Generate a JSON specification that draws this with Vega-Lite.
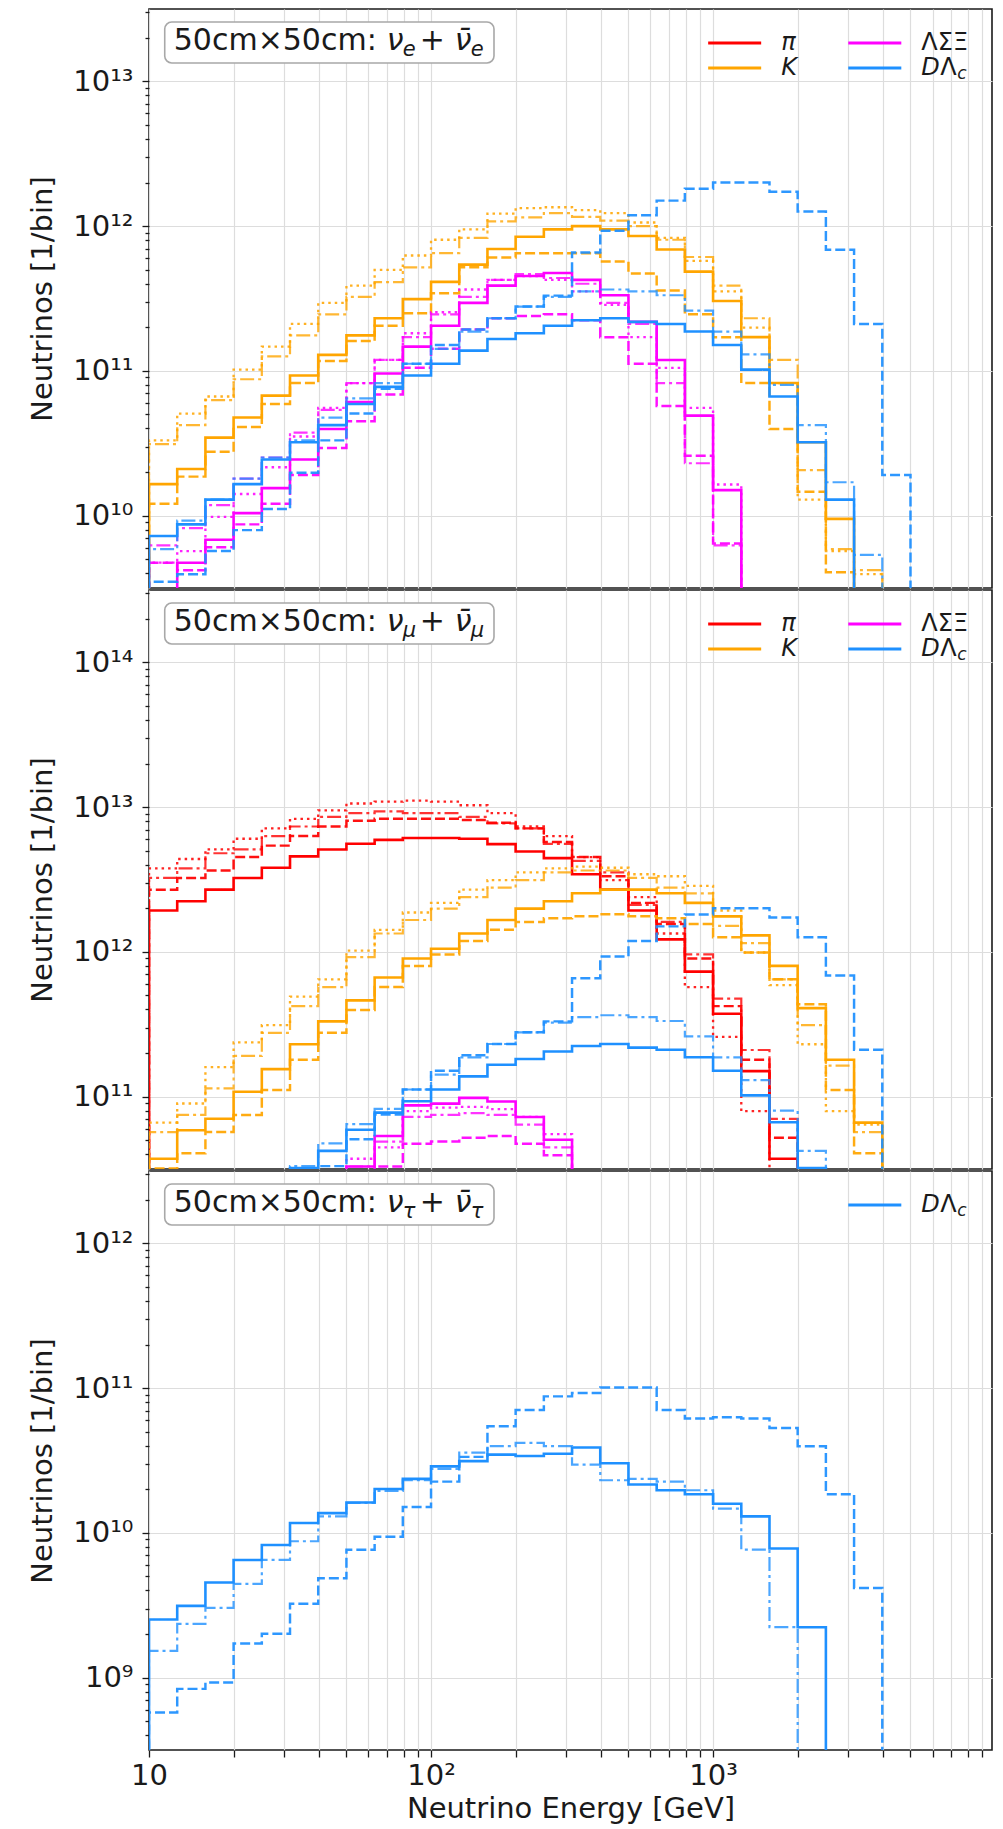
{
"$schema":"https://vega.github.io/schema/vega-lite/v6.json",
"background":"white",
"padding":{"left":28,"top":8,"right":5,"bottom":0},
"config":{
"font":"DejaVu Sans",
"view":{"stroke":"#1a1a1a","strokeWidth":1.6},
"axis":{"labelFont":"DejaVu Sans","labelFontSize":29,"labelColor":"#1a1a1a","titleFont":"DejaVu Sans","titleFontSize":29,"titleFontWeight":"normal","titleColor":"#1a1a1a","tickColor":"#1a1a1a","tickWidth":1.3,"gridColor":"#dddddd","gridWidth":1.2,"domain":false,"labelOverlap":false,"labelFlush":false,"labelBound":false},
"text":{"font":"DejaVu Sans","color":"#1a1a1a"}
},
"datasets":{
"p1":[
{"h":"K","s":"solid","E":10,"n":1},{"h":"K","s":"solid","E":10,"n":1.65e10},{"h":"K","s":"solid","E":12.59,"n":2.1e10},{"h":"K","s":"solid","E":15.85,"n":3.46e10},{"h":"K","s":"solid","E":19.95,"n":4.76e10},{"h":"K","s":"solid","E":25.12,"n":6.75e10},{"h":"K","s":"solid","E":31.62,"n":9.3e10},{"h":"K","s":"solid","E":39.81,"n":1.29e11},{"h":"K","s":"solid","E":50.12,"n":1.76e11},{"h":"K","s":"solid","E":63.1,"n":2.31e11},{"h":"K","s":"solid","E":79.43,"n":3.13e11},{"h":"K","s":"solid","E":100,"n":4.12e11},{"h":"K","s":"solid","E":125.9,"n":5.42e11},{"h":"K","s":"solid","E":158.5,"n":6.95e11},{"h":"K","s":"solid","E":199.5,"n":8.45e11},{"h":"K","s":"solid","E":251.2,"n":9.5e11},{"h":"K","s":"solid","E":316.2,"n":1e12},{"h":"K","s":"solid","E":398.1,"n":9.5e11},{"h":"K","s":"solid","E":501.2,"n":8.55e11},{"h":"K","s":"solid","E":631,"n":6.9e11},{"h":"K","s":"solid","E":794.3,"n":4.85e11},{"h":"K","s":"solid","E":1000,"n":3.04e11},{"h":"K","s":"solid","E":1259,"n":1.71e11},{"h":"K","s":"solid","E":1585,"n":8.24e10},{"h":"K","s":"solid","E":1995,"n":3.21e10},{"h":"K","s":"solid","E":2512,"n":9.5e9},{"h":"K","s":"solid","E":3162,"n":1},
{"h":"K","s":"dot","E":10,"n":1},{"h":"K","s":"dot","E":10,"n":3.31e10},{"h":"K","s":"dot","E":12.59,"n":5.07e10},{"h":"K","s":"dot","E":15.85,"n":6.65e10},{"h":"K","s":"dot","E":19.95,"n":1.02e11},{"h":"K","s":"dot","E":25.12,"n":1.47e11},{"h":"K","s":"dot","E":31.62,"n":2.11e11},{"h":"K","s":"dot","E":39.81,"n":2.95e11},{"h":"K","s":"dot","E":50.12,"n":3.88e11},{"h":"K","s":"dot","E":63.1,"n":4.98e11},{"h":"K","s":"dot","E":79.43,"n":6.27e11},{"h":"K","s":"dot","E":100,"n":8.05e11},{"h":"K","s":"dot","E":125.9,"n":9.5e11},{"h":"K","s":"dot","E":158.5,"n":1.22e12},{"h":"K","s":"dot","E":199.5,"n":1.33e12},{"h":"K","s":"dot","E":251.2,"n":1.35e12},{"h":"K","s":"dot","E":316.2,"n":1.29e12},{"h":"K","s":"dot","E":398.1,"n":1.23e12},{"h":"K","s":"dot","E":501.2,"n":1.06e12},{"h":"K","s":"dot","E":631,"n":8.3e11},{"h":"K","s":"dot","E":794.3,"n":5.75e11},{"h":"K","s":"dot","E":1000,"n":3.54e11},{"h":"K","s":"dot","E":1259,"n":1.99e11},{"h":"K","s":"dot","E":1585,"n":8.24e10},{"h":"K","s":"dot","E":1995,"n":1.29e10},{"h":"K","s":"dot","E":2512,"n":5.7e9},{"h":"K","s":"dot","E":3162,"n":3.94e9},{"h":"K","s":"dot","E":3981,"n":1},
{"h":"K","s":"dashdot","E":10,"n":1},{"h":"K","s":"dashdot","E":10,"n":3.12e10},{"h":"K","s":"dashdot","E":12.59,"n":4.22e10},{"h":"K","s":"dashdot","E":15.85,"n":6.27e10},{"h":"K","s":"dashdot","E":19.95,"n":8.75e10},{"h":"K","s":"dashdot","E":25.12,"n":1.26e11},{"h":"K","s":"dashdot","E":31.62,"n":1.76e11},{"h":"K","s":"dashdot","E":39.81,"n":2.46e11},{"h":"K","s":"dashdot","E":50.12,"n":3.24e11},{"h":"K","s":"dashdot","E":63.1,"n":4.1e11},{"h":"K","s":"dashdot","E":79.43,"n":5.19e11},{"h":"K","s":"dashdot","E":100,"n":6.5e11},{"h":"K","s":"dashdot","E":125.9,"n":8.3e11},{"h":"K","s":"dashdot","E":158.5,"n":1.08e12},{"h":"K","s":"dashdot","E":199.5,"n":1.15e12},{"h":"K","s":"dashdot","E":251.2,"n":1.23e12},{"h":"K","s":"dashdot","E":316.2,"n":1.16e12},{"h":"K","s":"dashdot","E":398.1,"n":1.09e12},{"h":"K","s":"dashdot","E":501.2,"n":1e12},{"h":"K","s":"dashdot","E":631,"n":8.05e11},{"h":"K","s":"dashdot","E":794.3,"n":6.12e11},{"h":"K","s":"dashdot","E":1000,"n":3.88e11},{"h":"K","s":"dashdot","E":1259,"n":2.31e11},{"h":"K","s":"dashdot","E":1585,"n":1.19e11},{"h":"K","s":"dashdot","E":1995,"n":2.06e10},{"h":"K","s":"dashdot","E":2512,"n":5.86e9},{"h":"K","s":"dashdot","E":3162,"n":4.2e9},{"h":"K","s":"dashdot","E":3981,"n":1},
{"h":"K","s":"dash","E":10,"n":1},{"h":"K","s":"dash","E":10,"n":1.21e10},{"h":"K","s":"dash","E":12.59,"n":1.86e10},{"h":"K","s":"dash","E":15.85,"n":2.76e10},{"h":"K","s":"dash","E":19.95,"n":4.09e10},{"h":"K","s":"dash","E":25.12,"n":5.9e10},{"h":"K","s":"dash","E":31.62,"n":8.24e10},{"h":"K","s":"dash","E":39.81,"n":1.17e11},{"h":"K","s":"dash","E":50.12,"n":1.61e11},{"h":"K","s":"dash","E":63.1,"n":2.05e11},{"h":"K","s":"dash","E":79.43,"n":2.5e11},{"h":"K","s":"dash","E":100,"n":3.44e11},{"h":"K","s":"dash","E":125.9,"n":5.19e11},{"h":"K","s":"dash","E":158.5,"n":6.08e11},{"h":"K","s":"dash","E":199.5,"n":6.5e11},{"h":"K","s":"dash","E":251.2,"n":6.5e11},{"h":"K","s":"dash","E":316.2,"n":6.5e11},{"h":"K","s":"dash","E":398.1,"n":5.69e11},{"h":"K","s":"dash","E":501.2,"n":4.71e11},{"h":"K","s":"dash","E":631,"n":3.59e11},{"h":"K","s":"dash","E":794.3,"n":2.46e11},{"h":"K","s":"dash","E":1000,"n":1.71e11},{"h":"K","s":"dash","E":1259,"n":8.24e10},{"h":"K","s":"dash","E":1585,"n":3.97e10},{"h":"K","s":"dash","E":1995,"n":1.46e10},{"h":"K","s":"dash","E":2512,"n":4.06e9},{"h":"K","s":"dash","E":3162,"n":1},
{"h":"ΛΣΞ","s":"solid","E":10,"n":1},{"h":"ΛΣΞ","s":"solid","E":10,"n":2.74e9},{"h":"ΛΣΞ","s":"solid","E":12.59,"n":4.73e9},{"h":"ΛΣΞ","s":"solid","E":15.85,"n":6.82e9},{"h":"ΛΣΞ","s":"solid","E":19.95,"n":1.04e10},{"h":"ΛΣΞ","s":"solid","E":25.12,"n":1.55e10},{"h":"ΛΣΞ","s":"solid","E":31.62,"n":2.44e10},{"h":"ΛΣΞ","s":"solid","E":39.81,"n":3.97e10},{"h":"ΛΣΞ","s":"solid","E":50.12,"n":6.08e10},{"h":"ΛΣΞ","s":"solid","E":63.1,"n":9.6e10},{"h":"ΛΣΞ","s":"solid","E":79.43,"n":1.47e11},{"h":"ΛΣΞ","s":"solid","E":100,"n":2.05e11},{"h":"ΛΣΞ","s":"solid","E":125.9,"n":2.95e11},{"h":"ΛΣΞ","s":"solid","E":158.5,"n":3.88e11},{"h":"ΛΣΞ","s":"solid","E":199.5,"n":4.52e11},{"h":"ΛΣΞ","s":"solid","E":251.2,"n":4.74e11},{"h":"ΛΣΞ","s":"solid","E":316.2,"n":4.25e11},{"h":"ΛΣΞ","s":"solid","E":398.1,"n":3.33e11},{"h":"ΛΣΞ","s":"solid","E":501.2,"n":2.18e11},{"h":"ΛΣΞ","s":"solid","E":631,"n":1.19e11},{"h":"ΛΣΞ","s":"solid","E":794.3,"n":4.91e10},{"h":"ΛΣΞ","s":"solid","E":1000,"n":1.5e10},{"h":"ΛΣΞ","s":"solid","E":1259,"n":1},
{"h":"ΛΣΞ","s":"dot","E":10,"n":1},{"h":"ΛΣΞ","s":"dot","E":10,"n":4.73e9},{"h":"ΛΣΞ","s":"dot","E":12.59,"n":5.69e9},{"h":"ΛΣΞ","s":"dot","E":15.85,"n":9.8e9},{"h":"ΛΣΞ","s":"dot","E":19.95,"n":1.41e10},{"h":"ΛΣΞ","s":"dot","E":25.12,"n":2.16e10},{"h":"ΛΣΞ","s":"dot","E":31.62,"n":3.52e10},{"h":"ΛΣΞ","s":"dot","E":39.81,"n":5.55e10},{"h":"ΛΣΞ","s":"dot","E":50.12,"n":8.24e10},{"h":"ΛΣΞ","s":"dot","E":63.1,"n":1.19e11},{"h":"ΛΣΞ","s":"dot","E":79.43,"n":1.82e11},{"h":"ΛΣΞ","s":"dot","E":100,"n":2.54e11},{"h":"ΛΣΞ","s":"dot","E":125.9,"n":3.65e11},{"h":"ΛΣΞ","s":"dot","E":158.5,"n":4.25e11},{"h":"ΛΣΞ","s":"dot","E":199.5,"n":4.52e11},{"h":"ΛΣΞ","s":"dot","E":251.2,"n":4.25e11},{"h":"ΛΣΞ","s":"dot","E":316.2,"n":3.54e11},{"h":"ΛΣΞ","s":"dot","E":398.1,"n":2.86e11},{"h":"ΛΣΞ","s":"dot","E":501.2,"n":1.71e11},{"h":"ΛΣΞ","s":"dot","E":631,"n":1.05e11},{"h":"ΛΣΞ","s":"dot","E":794.3,"n":5.55e10},{"h":"ΛΣΞ","s":"dot","E":1000,"n":1.64e10},{"h":"ΛΣΞ","s":"dot","E":1259,"n":1},
{"h":"ΛΣΞ","s":"dashdot","E":10,"n":1},{"h":"ΛΣΞ","s":"dashdot","E":10,"n":6.22e9},{"h":"ΛΣΞ","s":"dashdot","E":12.59,"n":8.2e9},{"h":"ΛΣΞ","s":"dashdot","E":15.85,"n":1.18e10},{"h":"ΛΣΞ","s":"dashdot","E":19.95,"n":1.8e10},{"h":"ΛΣΞ","s":"dashdot","E":25.12,"n":2.52e10},{"h":"ΛΣΞ","s":"dashdot","E":31.62,"n":3.74e10},{"h":"ΛΣΞ","s":"dashdot","E":39.81,"n":5.38e10},{"h":"ΛΣΞ","s":"dashdot","E":50.12,"n":8.24e10},{"h":"ΛΣΞ","s":"dashdot","E":63.1,"n":1.19e11},{"h":"ΛΣΞ","s":"dashdot","E":79.43,"n":1.71e11},{"h":"ΛΣΞ","s":"dashdot","E":100,"n":2.46e11},{"h":"ΛΣΞ","s":"dashdot","E":125.9,"n":3.24e11},{"h":"ΛΣΞ","s":"dashdot","E":158.5,"n":4.25e11},{"h":"ΛΣΞ","s":"dashdot","E":199.5,"n":4.66e11},{"h":"ΛΣΞ","s":"dashdot","E":251.2,"n":4.38e11},{"h":"ΛΣΞ","s":"dashdot","E":316.2,"n":4e11},{"h":"ΛΣΞ","s":"dashdot","E":398.1,"n":2.95e11},{"h":"ΛΣΞ","s":"dashdot","E":501.2,"n":2.11e11},{"h":"ΛΣΞ","s":"dashdot","E":631,"n":8.24e10},{"h":"ΛΣΞ","s":"dashdot","E":794.3,"n":2.3e10},{"h":"ΛΣΞ","s":"dashdot","E":1000,"n":6.22e9},{"h":"ΛΣΞ","s":"dashdot","E":1259,"n":1},
{"h":"ΛΣΞ","s":"dash","E":10,"n":1},{"h":"ΛΣΞ","s":"dash","E":10,"n":4.73e9},{"h":"ΛΣΞ","s":"dash","E":12.59,"n":4.2e9},{"h":"ΛΣΞ","s":"dash","E":15.85,"n":6.04e9},{"h":"ΛΣΞ","s":"dash","E":19.95,"n":8.7e9},{"h":"ΛΣΞ","s":"dash","E":25.12,"n":1.21e10},{"h":"ΛΣΞ","s":"dash","E":31.62,"n":1.91e10},{"h":"ΛΣΞ","s":"dash","E":39.81,"n":2.93e10},{"h":"ΛΣΞ","s":"dash","E":50.12,"n":4.49e10},{"h":"ΛΣΞ","s":"dash","E":63.1,"n":6.87e10},{"h":"ΛΣΞ","s":"dash","E":79.43,"n":1.05e11},{"h":"ΛΣΞ","s":"dash","E":100,"n":1.42e11},{"h":"ΛΣΞ","s":"dash","E":125.9,"n":1.93e11},{"h":"ΛΣΞ","s":"dash","E":158.5,"n":2.31e11},{"h":"ΛΣΞ","s":"dash","E":199.5,"n":2.39e11},{"h":"ΛΣΞ","s":"dash","E":251.2,"n":2.46e11},{"h":"ΛΣΞ","s":"dash","E":316.2,"n":2.24e11},{"h":"ΛΣΞ","s":"dash","E":398.1,"n":1.71e11},{"h":"ΛΣΞ","s":"dash","E":501.2,"n":1.12e11},{"h":"ΛΣΞ","s":"dash","E":631,"n":5.71e10},{"h":"ΛΣΞ","s":"dash","E":794.3,"n":2.59e10},{"h":"ΛΣΞ","s":"dash","E":1000,"n":6.41e9},{"h":"ΛΣΞ","s":"dash","E":1259,"n":1}
],
"d12":[
{"h":"DΛc","s":"solid","E":10,"n":1},{"h":"DΛc","s":"solid","E":10,"n":7.24e9},{"h":"DΛc","s":"solid","E":12.59,"n":8.7e9},{"h":"DΛc","s":"solid","E":15.85,"n":1.29e10},{"h":"DΛc","s":"solid","E":19.95,"n":1.65e10},{"h":"DΛc","s":"solid","E":25.12,"n":2.44e10},{"h":"DΛc","s":"solid","E":31.62,"n":3.21e10},{"h":"DΛc","s":"solid","E":39.81,"n":4.22e10},{"h":"DΛc","s":"solid","E":50.12,"n":5.9e10},{"h":"DΛc","s":"solid","E":63.1,"n":7.75e10},{"h":"DΛc","s":"solid","E":79.43,"n":9.3e10},{"h":"DΛc","s":"solid","E":100,"n":1.12e11},{"h":"DΛc","s":"solid","E":125.9,"n":1.38e11},{"h":"DΛc","s":"solid","E":158.5,"n":1.66e11},{"h":"DΛc","s":"solid","E":199.5,"n":1.82e11},{"h":"DΛc","s":"solid","E":251.2,"n":2.05e11},{"h":"DΛc","s":"solid","E":316.2,"n":2.24e11},{"h":"DΛc","s":"solid","E":398.1,"n":2.31e11},{"h":"DΛc","s":"solid","E":501.2,"n":2.18e11},{"h":"DΛc","s":"solid","E":631,"n":2.11e11},{"h":"DΛc","s":"solid","E":794.3,"n":1.87e11},{"h":"DΛc","s":"solid","E":1000,"n":1.51e11},{"h":"DΛc","s":"solid","E":1259,"n":1.02e11},{"h":"DΛc","s":"solid","E":1585,"n":6.65e10},{"h":"DΛc","s":"solid","E":1995,"n":3.21e10},{"h":"DΛc","s":"solid","E":2512,"n":1.29e10},{"h":"DΛc","s":"solid","E":3162,"n":1},
{"h":"DΛc","s":"dashdot","E":10,"n":1},{"h":"DΛc","s":"dashdot","E":10,"n":5.86e9},{"h":"DΛc","s":"dashdot","E":12.59,"n":9.25e9},{"h":"DΛc","s":"dashdot","E":15.85,"n":1.29e10},{"h":"DΛc","s":"dashdot","E":19.95,"n":1.8e10},{"h":"DΛc","s":"dashdot","E":25.12,"n":2.52e10},{"h":"DΛc","s":"dashdot","E":31.62,"n":3.31e10},{"h":"DΛc","s":"dashdot","E":39.81,"n":4.76e10},{"h":"DΛc","s":"dashdot","E":50.12,"n":6.46e10},{"h":"DΛc","s":"dashdot","E":63.1,"n":8.24e10},{"h":"DΛc","s":"dashdot","E":79.43,"n":1.12e11},{"h":"DΛc","s":"dashdot","E":100,"n":1.42e11},{"h":"DΛc","s":"dashdot","E":125.9,"n":1.87e11},{"h":"DΛc","s":"dashdot","E":158.5,"n":2.31e11},{"h":"DΛc","s":"dashdot","E":199.5,"n":2.78e11},{"h":"DΛc","s":"dashdot","E":251.2,"n":3.24e11},{"h":"DΛc","s":"dashdot","E":316.2,"n":3.54e11},{"h":"DΛc","s":"dashdot","E":398.1,"n":3.65e11},{"h":"DΛc","s":"dashdot","E":501.2,"n":3.54e11},{"h":"DΛc","s":"dashdot","E":631,"n":3.33e11},{"h":"DΛc","s":"dashdot","E":794.3,"n":2.61e11},{"h":"DΛc","s":"dashdot","E":1000,"n":1.87e11},{"h":"DΛc","s":"dashdot","E":1259,"n":1.3e11},{"h":"DΛc","s":"dashdot","E":1585,"n":8e10},{"h":"DΛc","s":"dashdot","E":1995,"n":4.22e10},{"h":"DΛc","s":"dashdot","E":2512,"n":1.7e10},{"h":"DΛc","s":"dashdot","E":3162,"n":5.35e9},{"h":"DΛc","s":"dashdot","E":3981,"n":1},
{"h":"DΛc","s":"dash","E":10,"n":1},{"h":"DΛc","s":"dash","E":10,"n":3.49e9},{"h":"DΛc","s":"dash","E":12.59,"n":3.94e9},{"h":"DΛc","s":"dash","E":15.85,"n":5.69e9},{"h":"DΛc","s":"dash","E":19.95,"n":7.94e9},{"h":"DΛc","s":"dash","E":25.12,"n":1.11e10},{"h":"DΛc","s":"dash","E":31.62,"n":1.98e10},{"h":"DΛc","s":"dash","E":39.81,"n":3.31e10},{"h":"DΛc","s":"dash","E":50.12,"n":5.07e10},{"h":"DΛc","s":"dash","E":63.1,"n":7.52e10},{"h":"DΛc","s":"dash","E":79.43,"n":1.12e11},{"h":"DΛc","s":"dash","E":100,"n":1.51e11},{"h":"DΛc","s":"dash","E":125.9,"n":1.93e11},{"h":"DΛc","s":"dash","E":158.5,"n":2.31e11},{"h":"DΛc","s":"dash","E":199.5,"n":2.78e11},{"h":"DΛc","s":"dash","E":251.2,"n":3.31e11},{"h":"DΛc","s":"dash","E":316.2,"n":6.58e11},{"h":"DΛc","s":"dash","E":398.1,"n":9.3e11},{"h":"DΛc","s":"dash","E":501.2,"n":1.19e12},{"h":"DΛc","s":"dash","E":631,"n":1.5e12},{"h":"DΛc","s":"dash","E":794.3,"n":1.81e12},{"h":"DΛc","s":"dash","E":1000,"n":2e12},{"h":"DΛc","s":"dash","E":1259,"n":2e12},{"h":"DΛc","s":"dash","E":1585,"n":1.73e12},{"h":"DΛc","s":"dash","E":1995,"n":1.26e12},{"h":"DΛc","s":"dash","E":2512,"n":6.87e11},{"h":"DΛc","s":"dash","E":3162,"n":2.11e11},{"h":"DΛc","s":"dash","E":3981,"n":1.91e10},{"h":"DΛc","s":"dash","E":5012,"n":1}
],
"p2":[
{"h":"π","s":"solid","E":10,"n":1},{"h":"π","s":"solid","E":10,"n":1.93e12},{"h":"π","s":"solid","E":12.59,"n":2.24e12},{"h":"π","s":"solid","E":15.85,"n":2.69e12},{"h":"π","s":"solid","E":19.95,"n":3.24e12},{"h":"π","s":"solid","E":25.12,"n":3.81e12},{"h":"π","s":"solid","E":31.62,"n":4.57e12},{"h":"π","s":"solid","E":39.81,"n":5.1e12},{"h":"π","s":"solid","E":50.12,"n":5.58e12},{"h":"π","s":"solid","E":63.1,"n":5.94e12},{"h":"π","s":"solid","E":79.43,"n":6.12e12},{"h":"π","s":"solid","E":100,"n":6.12e12},{"h":"π","s":"solid","E":125.9,"n":6.05e12},{"h":"π","s":"solid","E":158.5,"n":5.55e12},{"h":"π","s":"solid","E":199.5,"n":4.94e12},{"h":"π","s":"solid","E":251.2,"n":4.44e12},{"h":"π","s":"solid","E":316.2,"n":3.44e12},{"h":"π","s":"solid","E":398.1,"n":2.69e12},{"h":"π","s":"solid","E":501.2,"n":1.93e12},{"h":"π","s":"solid","E":631,"n":1.22e12},{"h":"π","s":"solid","E":794.3,"n":7.3e11},{"h":"π","s":"solid","E":1000,"n":3.74e11},{"h":"π","s":"solid","E":1259,"n":1.5e11},{"h":"π","s":"solid","E":1585,"n":3.72e10},{"h":"π","s":"solid","E":1995,"n":1},
{"h":"π","s":"dash","E":10,"n":1},{"h":"π","s":"dash","E":10,"n":2.69e12},{"h":"π","s":"dash","E":12.59,"n":3.24e12},{"h":"π","s":"dash","E":15.85,"n":3.65e12},{"h":"π","s":"dash","E":19.95,"n":4.52e12},{"h":"π","s":"dash","E":25.12,"n":5.42e12},{"h":"π","s":"dash","E":31.62,"n":6.31e12},{"h":"π","s":"dash","E":39.81,"n":7.35e12},{"h":"π","s":"dash","E":50.12,"n":8.05e12},{"h":"π","s":"dash","E":63.1,"n":8.3e12},{"h":"π","s":"dash","E":79.43,"n":8.3e12},{"h":"π","s":"dash","E":100,"n":8.3e12},{"h":"π","s":"dash","E":125.9,"n":8.15e12},{"h":"π","s":"dash","E":158.5,"n":7.8e12},{"h":"π","s":"dash","E":199.5,"n":7.13e12},{"h":"π","s":"dash","E":251.2,"n":5.75e12},{"h":"π","s":"dash","E":316.2,"n":4.52e12},{"h":"π","s":"dash","E":398.1,"n":3.33e12},{"h":"π","s":"dash","E":501.2,"n":2.18e12},{"h":"π","s":"dash","E":631,"n":1.56e12},{"h":"π","s":"dash","E":794.3,"n":9e11},{"h":"π","s":"dash","E":1000,"n":4.22e11},{"h":"π","s":"dash","E":1259,"n":1.8e11},{"h":"π","s":"dash","E":1585,"n":5.19e10},{"h":"π","s":"dash","E":1995,"n":1},
{"h":"π","s":"dashdot","E":10,"n":1},{"h":"π","s":"dashdot","E":10,"n":3.24e12},{"h":"π","s":"dashdot","E":12.59,"n":3.77e12},{"h":"π","s":"dashdot","E":15.85,"n":4.8e12},{"h":"π","s":"dashdot","E":19.95,"n":5.1e12},{"h":"π","s":"dashdot","E":25.12,"n":6.31e12},{"h":"π","s":"dashdot","E":31.62,"n":7.35e12},{"h":"π","s":"dashdot","E":39.81,"n":8.55e12},{"h":"π","s":"dashdot","E":50.12,"n":9.08e12},{"h":"π","s":"dashdot","E":63.1,"n":9.36e12},{"h":"π","s":"dashdot","E":79.43,"n":9.08e12},{"h":"π","s":"dashdot","E":100,"n":9.08e12},{"h":"π","s":"dashdot","E":125.9,"n":8.55e12},{"h":"π","s":"dashdot","E":158.5,"n":7.72e12},{"h":"π","s":"dashdot","E":199.5,"n":7.13e12},{"h":"π","s":"dashdot","E":251.2,"n":5.58e12},{"h":"π","s":"dashdot","E":316.2,"n":4.25e12},{"h":"π","s":"dashdot","E":398.1,"n":3.54e12},{"h":"π","s":"dashdot","E":501.2,"n":2.11e12},{"h":"π","s":"dashdot","E":631,"n":1.61e12},{"h":"π","s":"dashdot","E":794.3,"n":9.6e11},{"h":"π","s":"dashdot","E":1000,"n":4.76e11},{"h":"π","s":"dashdot","E":1259,"n":2.1e11},{"h":"π","s":"dashdot","E":1585,"n":7.03e10},{"h":"π","s":"dashdot","E":1995,"n":1},
{"h":"π","s":"dot","E":10,"n":1},{"h":"π","s":"dot","E":10,"n":3.77e12},{"h":"π","s":"dot","E":12.59,"n":4.38e12},{"h":"π","s":"dot","E":15.85,"n":5.1e12},{"h":"π","s":"dot","E":19.95,"n":6.05e12},{"h":"π","s":"dot","E":25.12,"n":7.13e12},{"h":"π","s":"dot","E":31.62,"n":8.3e12},{"h":"π","s":"dot","E":39.81,"n":9.5e12},{"h":"π","s":"dot","E":50.12,"n":1.06e13},{"h":"π","s":"dot","E":63.1,"n":1.09e13},{"h":"π","s":"dot","E":79.43,"n":1.11e13},{"h":"π","s":"dot","E":100,"n":1.09e13},{"h":"π","s":"dot","E":125.9,"n":1.03e13},{"h":"π","s":"dot","E":158.5,"n":9.08e12},{"h":"π","s":"dot","E":199.5,"n":7.35e12},{"h":"π","s":"dot","E":251.2,"n":6.31e12},{"h":"π","s":"dot","E":316.2,"n":4.52e12},{"h":"π","s":"dot","E":398.1,"n":3.13e12},{"h":"π","s":"dot","E":501.2,"n":2.39e12},{"h":"π","s":"dot","E":631,"n":1.34e12},{"h":"π","s":"dot","E":794.3,"n":5.71e11},{"h":"π","s":"dot","E":1000,"n":2.59e11},{"h":"π","s":"dot","E":1259,"n":7.94e10},{"h":"π","s":"dot","E":1585,"n":3.1e10},{"h":"π","s":"dot","E":1995,"n":1},
{"h":"K","s":"solid","E":10,"n":1},{"h":"K","s":"solid","E":10,"n":3.72e10},{"h":"K","s":"solid","E":12.59,"n":5.86e10},{"h":"K","s":"solid","E":15.85,"n":7.03e10},{"h":"K","s":"solid","E":19.95,"n":1.08e11},{"h":"K","s":"solid","E":25.12,"n":1.55e11},{"h":"K","s":"solid","E":31.62,"n":2.3e11},{"h":"K","s":"solid","E":39.81,"n":3.31e11},{"h":"K","s":"solid","E":50.12,"n":4.62e11},{"h":"K","s":"solid","E":63.1,"n":6.65e11},{"h":"K","s":"solid","E":79.43,"n":9e11},{"h":"K","s":"solid","E":100,"n":1.05e12},{"h":"K","s":"solid","E":125.9,"n":1.34e12},{"h":"K","s":"solid","E":158.5,"n":1.66e12},{"h":"K","s":"solid","E":199.5,"n":1.99e12},{"h":"K","s":"solid","E":251.2,"n":2.24e12},{"h":"K","s":"solid","E":316.2,"n":2.54e12},{"h":"K","s":"solid","E":398.1,"n":2.69e12},{"h":"K","s":"solid","E":501.2,"n":2.69e12},{"h":"K","s":"solid","E":631,"n":2.54e12},{"h":"K","s":"solid","E":794.3,"n":2.18e12},{"h":"K","s":"solid","E":1000,"n":1.76e12},{"h":"K","s":"solid","E":1259,"n":1.3e12},{"h":"K","s":"solid","E":1585,"n":8e11},{"h":"K","s":"solid","E":1995,"n":4.09e11},{"h":"K","s":"solid","E":2512,"n":1.8e11},{"h":"K","s":"solid","E":3162,"n":6.61e10},{"h":"K","s":"solid","E":3981,"n":1},
{"h":"K","s":"dash","E":10,"n":1},{"h":"K","s":"dash","E":10,"n":3.19e10},{"h":"K","s":"dash","E":12.59,"n":4.06e10},{"h":"K","s":"dash","E":15.85,"n":5.69e10},{"h":"K","s":"dash","E":19.95,"n":7.47e10},{"h":"K","s":"dash","E":25.12,"n":1.11e11},{"h":"K","s":"dash","E":31.62,"n":1.8e11},{"h":"K","s":"dash","E":39.81,"n":2.76e11},{"h":"K","s":"dash","E":50.12,"n":3.97e11},{"h":"K","s":"dash","E":63.1,"n":5.71e11},{"h":"K","s":"dash","E":79.43,"n":8e11},{"h":"K","s":"dash","E":100,"n":9.6e11},{"h":"K","s":"dash","E":125.9,"n":1.19e12},{"h":"K","s":"dash","E":158.5,"n":1.42e12},{"h":"K","s":"dash","E":199.5,"n":1.61e12},{"h":"K","s":"dash","E":251.2,"n":1.71e12},{"h":"K","s":"dash","E":316.2,"n":1.76e12},{"h":"K","s":"dash","E":398.1,"n":1.82e12},{"h":"K","s":"dash","E":501.2,"n":1.76e12},{"h":"K","s":"dash","E":631,"n":1.71e12},{"h":"K","s":"dash","E":794.3,"n":1.56e12},{"h":"K","s":"dash","E":1000,"n":1.26e12},{"h":"K","s":"dash","E":1259,"n":9.9e11},{"h":"K","s":"dash","E":1585,"n":6.46e11},{"h":"K","s":"dash","E":1995,"n":4.35e11},{"h":"K","s":"dash","E":2512,"n":1.11e11},{"h":"K","s":"dash","E":3162,"n":4.06e10},{"h":"K","s":"dash","E":3981,"n":1},
{"h":"K","s":"dot","E":10,"n":1},{"h":"K","s":"dot","E":10,"n":6.61e10},{"h":"K","s":"dot","E":12.59,"n":8.97e10},{"h":"K","s":"dot","E":15.85,"n":1.6e11},{"h":"K","s":"dot","E":19.95,"n":2.37e11},{"h":"K","s":"dot","E":25.12,"n":3.12e11},{"h":"K","s":"dot","E":31.62,"n":4.91e11},{"h":"K","s":"dot","E":39.81,"n":6.46e11},{"h":"K","s":"dot","E":50.12,"n":1.02e12},{"h":"K","s":"dot","E":63.1,"n":1.42e12},{"h":"K","s":"dot","E":79.43,"n":1.87e12},{"h":"K","s":"dot","E":100,"n":2.18e12},{"h":"K","s":"dot","E":125.9,"n":2.69e12},{"h":"K","s":"dot","E":158.5,"n":3.13e12},{"h":"K","s":"dot","E":199.5,"n":3.54e12},{"h":"K","s":"dot","E":251.2,"n":3.77e12},{"h":"K","s":"dot","E":316.2,"n":3.88e12},{"h":"K","s":"dot","E":398.1,"n":3.81e12},{"h":"K","s":"dot","E":501.2,"n":3.44e12},{"h":"K","s":"dot","E":631,"n":3.33e12},{"h":"K","s":"dot","E":794.3,"n":2.86e12},{"h":"K","s":"dot","E":1000,"n":1.93e12},{"h":"K","s":"dot","E":1259,"n":9.9e11},{"h":"K","s":"dot","E":1585,"n":5.9e11},{"h":"K","s":"dot","E":1995,"n":2.3e11},{"h":"K","s":"dot","E":2512,"n":7.94e10},{"h":"K","s":"dot","E":3162,"n":6.41e10},{"h":"K","s":"dot","E":3981,"n":1},
{"h":"K","s":"dashdot","E":10,"n":1},{"h":"K","s":"dashdot","E":10,"n":5.69e10},{"h":"K","s":"dashdot","E":12.59,"n":7.47e10},{"h":"K","s":"dashdot","E":15.85,"n":1.14e11},{"h":"K","s":"dashdot","E":19.95,"n":1.91e11},{"h":"K","s":"dashdot","E":25.12,"n":2.76e11},{"h":"K","s":"dashdot","E":31.62,"n":4.22e11},{"h":"K","s":"dashdot","E":39.81,"n":5.71e11},{"h":"K","s":"dashdot","E":50.12,"n":9.2e11},{"h":"K","s":"dashdot","E":63.1,"n":1.34e12},{"h":"K","s":"dashdot","E":79.43,"n":1.66e12},{"h":"K","s":"dashdot","E":100,"n":1.99e12},{"h":"K","s":"dashdot","E":125.9,"n":2.39e12},{"h":"K","s":"dashdot","E":158.5,"n":2.78e12},{"h":"K","s":"dashdot","E":199.5,"n":3.13e12},{"h":"K","s":"dashdot","E":251.2,"n":3.54e12},{"h":"K","s":"dashdot","E":316.2,"n":3.65e12},{"h":"K","s":"dashdot","E":398.1,"n":3.65e12},{"h":"K","s":"dashdot","E":501.2,"n":3.24e12},{"h":"K","s":"dashdot","E":631,"n":2.78e12},{"h":"K","s":"dashdot","E":794.3,"n":2.54e12},{"h":"K","s":"dashdot","E":1000,"n":1.51e12},{"h":"K","s":"dashdot","E":1259,"n":1.15e12},{"h":"K","s":"dashdot","E":1585,"n":6.46e11},{"h":"K","s":"dashdot","E":1995,"n":3.12e11},{"h":"K","s":"dashdot","E":2512,"n":1.64e11},{"h":"K","s":"dashdot","E":3162,"n":5.69e10},{"h":"K","s":"dashdot","E":3981,"n":1},
{"h":"ΛΣΞ","s":"solid","E":50.12,"n":1},{"h":"ΛΣΞ","s":"solid","E":50.12,"n":3.29e10},{"h":"ΛΣΞ","s":"solid","E":63.1,"n":5.35e10},{"h":"ΛΣΞ","s":"solid","E":79.43,"n":8.7e10},{"h":"ΛΣΞ","s":"solid","E":100,"n":8.95e10},{"h":"ΛΣΞ","s":"solid","E":125.9,"n":9.8e10},{"h":"ΛΣΞ","s":"solid","E":158.5,"n":9.25e10},{"h":"ΛΣΞ","s":"solid","E":199.5,"n":7.24e10},{"h":"ΛΣΞ","s":"solid","E":251.2,"n":5.03e10},{"h":"ΛΣΞ","s":"solid","E":316.2,"n":1},
{"h":"ΛΣΞ","s":"dot","E":50.12,"n":1},{"h":"ΛΣΞ","s":"dot","E":50.12,"n":3.72e10},{"h":"ΛΣΞ","s":"dot","E":63.1,"n":4.46e10},{"h":"ΛΣΞ","s":"dot","E":79.43,"n":7.94e10},{"h":"ΛΣΞ","s":"dot","E":100,"n":8.4e10},{"h":"ΛΣΞ","s":"dot","E":125.9,"n":8.5e10},{"h":"ΛΣΞ","s":"dot","E":158.5,"n":8.2e10},{"h":"ΛΣΞ","s":"dot","E":199.5,"n":7.24e10},{"h":"ΛΣΞ","s":"dot","E":251.2,"n":5.5e10},{"h":"ΛΣΞ","s":"dot","E":316.2,"n":1},
{"h":"ΛΣΞ","s":"dashdot","E":50.12,"n":1},{"h":"ΛΣΞ","s":"dashdot","E":50.12,"n":3.29e10},{"h":"ΛΣΞ","s":"dashdot","E":63.1,"n":4.89e10},{"h":"ΛΣΞ","s":"dashdot","E":79.43,"n":7.24e10},{"h":"ΛΣΞ","s":"dashdot","E":100,"n":7.47e10},{"h":"ΛΣΞ","s":"dashdot","E":125.9,"n":7.7e10},{"h":"ΛΣΞ","s":"dashdot","E":158.5,"n":7.47e10},{"h":"ΛΣΞ","s":"dashdot","E":199.5,"n":6.41e10},{"h":"ΛΣΞ","s":"dashdot","E":251.2,"n":4.46e10},{"h":"ΛΣΞ","s":"dashdot","E":316.2,"n":1},
{"h":"ΛΣΞ","s":"dash","E":63.1,"n":1},{"h":"ΛΣΞ","s":"dash","E":63.1,"n":3.29e10},{"h":"ΛΣΞ","s":"dash","E":79.43,"n":4.73e10},{"h":"ΛΣΞ","s":"dash","E":100,"n":4.89e10},{"h":"ΛΣΞ","s":"dash","E":125.9,"n":5.19e10},{"h":"ΛΣΞ","s":"dash","E":158.5,"n":5.35e10},{"h":"ΛΣΞ","s":"dash","E":199.5,"n":4.73e10},{"h":"ΛΣΞ","s":"dash","E":251.2,"n":3.94e10},{"h":"ΛΣΞ","s":"dash","E":316.2,"n":1}
],
"p3":[
{"h":"DΛc","s":"solid","E":10,"n":1},{"h":"DΛc","s":"solid","E":10,"n":2.52e9},{"h":"DΛc","s":"solid","E":12.59,"n":3.13e9},{"h":"DΛc","s":"solid","E":15.85,"n":4.54e9},{"h":"DΛc","s":"solid","E":19.95,"n":6.5e9},{"h":"DΛc","s":"solid","E":25.12,"n":8.24e9},{"h":"DΛc","s":"solid","E":31.62,"n":1.17e10},{"h":"DΛc","s":"solid","E":39.81,"n":1.37e10},{"h":"DΛc","s":"solid","E":50.12,"n":1.62e10},{"h":"DΛc","s":"solid","E":63.1,"n":2.01e10},{"h":"DΛc","s":"solid","E":79.43,"n":2.36e10},{"h":"DΛc","s":"solid","E":100,"n":2.88e10},{"h":"DΛc","s":"solid","E":125.9,"n":3.13e10},{"h":"DΛc","s":"solid","E":158.5,"n":3.47e10},{"h":"DΛc","s":"solid","E":199.5,"n":3.4e10},{"h":"DΛc","s":"solid","E":251.2,"n":3.52e10},{"h":"DΛc","s":"solid","E":316.2,"n":3.89e10},{"h":"DΛc","s":"solid","E":398.1,"n":3.03e10},{"h":"DΛc","s":"solid","E":501.2,"n":2.16e10},{"h":"DΛc","s":"solid","E":631,"n":1.97e10},{"h":"DΛc","s":"solid","E":794.3,"n":1.85e10},{"h":"DΛc","s":"solid","E":1000,"n":1.59e10},{"h":"DΛc","s":"solid","E":1259,"n":1.3e10},{"h":"DΛc","s":"solid","E":1585,"n":7.8e9},{"h":"DΛc","s":"solid","E":1995,"n":2.23e9},{"h":"DΛc","s":"solid","E":2512,"n":1},
{"h":"DΛc","s":"dashdot","E":10,"n":1},{"h":"DΛc","s":"dashdot","E":10,"n":1.53e9},{"h":"DΛc","s":"dashdot","E":12.59,"n":2.35e9},{"h":"DΛc","s":"dashdot","E":15.85,"n":3.03e9},{"h":"DΛc","s":"dashdot","E":19.95,"n":4.45e9},{"h":"DΛc","s":"dashdot","E":25.12,"n":6.5e9},{"h":"DΛc","s":"dashdot","E":31.62,"n":8.75e9},{"h":"DΛc","s":"dashdot","E":39.81,"n":1.3e10},{"h":"DΛc","s":"dashdot","E":50.12,"n":1.61e10},{"h":"DΛc","s":"dashdot","E":63.1,"n":1.95e10},{"h":"DΛc","s":"dashdot","E":79.43,"n":2.31e10},{"h":"DΛc","s":"dashdot","E":100,"n":2.77e10},{"h":"DΛc","s":"dashdot","E":125.9,"n":3.58e10},{"h":"DΛc","s":"dashdot","E":158.5,"n":3.97e10},{"h":"DΛc","s":"dashdot","E":199.5,"n":4.19e10},{"h":"DΛc","s":"dashdot","E":251.2,"n":3.97e10},{"h":"DΛc","s":"dashdot","E":316.2,"n":2.96e10},{"h":"DΛc","s":"dashdot","E":398.1,"n":2.31e10},{"h":"DΛc","s":"dashdot","E":501.2,"n":2.36e10},{"h":"DΛc","s":"dashdot","E":631,"n":2.26e10},{"h":"DΛc","s":"dashdot","E":794.3,"n":1.97e10},{"h":"DΛc","s":"dashdot","E":1000,"n":1.47e10},{"h":"DΛc","s":"dashdot","E":1259,"n":7.65e9},{"h":"DΛc","s":"dashdot","E":1585,"n":2.23e9},{"h":"DΛc","s":"dashdot","E":1995,"n":1},
{"h":"DΛc","s":"dash","E":10,"n":1},{"h":"DΛc","s":"dash","E":10,"n":5.75e8},{"h":"DΛc","s":"dash","E":12.59,"n":8.36e8},{"h":"DΛc","s":"dash","E":15.85,"n":9.25e8},{"h":"DΛc","s":"dash","E":19.95,"n":1.72e9},{"h":"DΛc","s":"dash","E":25.12,"n":2.01e9},{"h":"DΛc","s":"dash","E":31.62,"n":3.24e9},{"h":"DΛc","s":"dash","E":39.81,"n":4.86e9},{"h":"DΛc","s":"dash","E":50.12,"n":7.65e9},{"h":"DΛc","s":"dash","E":63.1,"n":9.4e9},{"h":"DΛc","s":"dash","E":79.43,"n":1.51e10},{"h":"DΛc","s":"dash","E":100,"n":2.26e10},{"h":"DΛc","s":"dash","E":125.9,"n":3.35e10},{"h":"DΛc","s":"dash","E":158.5,"n":5.46e10},{"h":"DΛc","s":"dash","E":199.5,"n":7.06e10},{"h":"DΛc","s":"dash","E":251.2,"n":8.77e10},{"h":"DΛc","s":"dash","E":316.2,"n":9.25e10},{"h":"DΛc","s":"dash","E":398.1,"n":1.01e11},{"h":"DΛc","s":"dash","E":501.2,"n":1.01e11},{"h":"DΛc","s":"dash","E":631,"n":7.06e10},{"h":"DΛc","s":"dash","E":794.3,"n":6.17e10},{"h":"DΛc","s":"dash","E":1000,"n":6.3e10},{"h":"DΛc","s":"dash","E":1259,"n":6.17e10},{"h":"DΛc","s":"dash","E":1585,"n":5.31e10},{"h":"DΛc","s":"dash","E":1995,"n":3.97e10},{"h":"DΛc","s":"dash","E":2512,"n":1.85e10},{"h":"DΛc","s":"dash","E":3162,"n":4.16e9},{"h":"DΛc","s":"dash","E":3981,"n":1}
]
},
"spacing":0,
"vconcat":[
{"width":843,"height":579,
"layer":[
{"layer":[{"data":{"name":"p1"},"mark":{"type":"line","interpolate":"step-after","clip":true}},{"data":{"name":"d12"},"mark":{"type":"line","interpolate":"step-after","clip":true}}],
"encoding":{
"x":{"field":"E","type":"quantitative","scale":{"type":"log","domain":[10,9750],"nice":false},"axis":{"values":[10,20,30,40,50,60,70,80,90,100,200,300,400,500,600,700,800,900,1000,2000,3000,4000,5000,6000,7000,8000,9000],"title":null,"labels":false,"ticks":false,"grid":true}},
"y":{"field":"n","type":"quantitative","scale":{"type":"log","domain":[3.1623e9,3.1623e13],"nice":false},"axis":{"values":[4e9,5e9,6e9,7e9,8e9,9e9,1e10,2e10,3e10,4e10,5e10,6e10,7e10,8e10,9e10,1e11,2e11,3e11,4e11,5e11,6e11,7e11,8e11,9e11,1e12,2e12,3e12,4e12,5e12,6e12,7e12,8e12,9e12,1e13,2e13,3e13],"title":"Neutrinos [1/bin]","labelExpr":"abs(log(datum.value)/LN10 - round(log(datum.value)/LN10)) < 0.01 ? '10' + (round(log(datum.value)/LN10) >= 10 ? '¹' : '') + ['⁰','¹','²','³','⁴','⁵','⁶','⁷','⁸','⁹'][round(log(datum.value)/LN10) % 10] : ''","labelFontSize":{"condition":{"test":"abs(log(datum.value)/LN10 - round(log(datum.value)/LN10)) < 0.01","value":29},"value":1},"tickSize":{"condition":{"test":"abs(log(datum.value)/LN10 - round(log(datum.value)/LN10)) < 0.01","value":7},"value":4},"gridOpacity":{"condition":{"test":"abs(log(datum.value)/LN10 - round(log(datum.value)/LN10)) < 0.01","value":1},"value":0},"labelPadding":9,"titlePadding":15}},
"color":{"field":"h","type":"nominal","scale":{"domain":["π","K","ΛΣΞ","DΛc"],"range":["#ff0000","#ffa500","#ff00ff","#1e90ff"]},"legend":null},
"strokeDash":{"field":"s","type":"nominal","scale":{"domain":["solid","dash","dot","dashdot"],"range":[[1,0],[10,4],[2.5,4],[14,4,3,4]]},"legend":null},
"strokeWidth":{"field":"s","type":"ordinal","scale":{"domain":["solid","dash","dot","dashdot"],"range":[2.6,2.2,2.4,2.2]},"legend":null},
"opacity":{"field":"s","type":"ordinal","scale":{"domain":["solid","dash","dot","dashdot"],"range":[1,0.8,0.85,0.8]},"legend":null},
"order":{"value":null}
}},
{"data":{"values":[{}]},"mark":{"type":"rect","fill":"white","stroke":"#a8a8a8","strokeWidth":1.6,"cornerRadius":7},"encoding":{"x":{"datum":11.37,"type":"quantitative"},"x2":{"datum":167.2},"y":{"datum":2.571e13,"type":"quantitative"},"y2":{"datum":1.34e13}}},
{"data":{"values":[{}]},"mark":{"type":"text","text":"50cm×50cm:","align":"left","baseline":"alphabetic","fontSize":30},"encoding":{"x":{"datum":12.24,"type":"quantitative"},"y":{"datum":1.64e13,"type":"quantitative"}}},
{"data":{"values":[{}]},"mark":{"type":"text","text":"ν","align":"left","baseline":"alphabetic","fontSize":30,"fontStyle":"italic","dx":213},"encoding":{"x":{"datum":12.24,"type":"quantitative"},"y":{"datum":1.64e13,"type":"quantitative"}}},
{"data":{"values":[{}]},"mark":{"type":"text","text":"e","align":"left","baseline":"alphabetic","fontSize":21,"fontStyle":"italic","dx":229,"dy":6},"encoding":{"x":{"datum":12.24,"type":"quantitative"},"y":{"datum":1.64e13,"type":"quantitative"}}},
{"data":{"values":[{}]},"mark":{"type":"text","text":"+","align":"left","baseline":"alphabetic","fontSize":30,"dx":246},"encoding":{"x":{"datum":12.24,"type":"quantitative"},"y":{"datum":1.64e13,"type":"quantitative"}}},
{"data":{"values":[{}]},"mark":{"type":"text","text":"ν̄","align":"left","baseline":"alphabetic","fontSize":30,"fontStyle":"italic","dx":281},"encoding":{"x":{"datum":12.24,"type":"quantitative"},"y":{"datum":1.64e13,"type":"quantitative"}}},
{"data":{"values":[{}]},"mark":{"type":"text","text":"e","align":"left","baseline":"alphabetic","fontSize":21,"fontStyle":"italic","dx":297,"dy":6},"encoding":{"x":{"datum":12.24,"type":"quantitative"},"y":{"datum":1.64e13,"type":"quantitative"}}},
{"data":{"values":[{}]},"mark":{"type":"rule","color":"#ff0000","strokeWidth":3},"encoding":{"x":{"datum":960.7,"type":"quantitative"},"x2":{"datum":1481},"y":{"datum":1.841e13,"type":"quantitative"}}},
{"data":{"values":[{}]},"mark":{"type":"rule","color":"#ffa500","strokeWidth":3},"encoding":{"x":{"datum":960.7,"type":"quantitative"},"x2":{"datum":1481},"y":{"datum":1.237e13,"type":"quantitative"}}},
{"data":{"values":[{}]},"mark":{"type":"rule","color":"#ff00ff","strokeWidth":3},"encoding":{"x":{"datum":3016,"type":"quantitative"},"x2":{"datum":4650},"y":{"datum":1.841e13,"type":"quantitative"}}},
{"data":{"values":[{}]},"mark":{"type":"rule","color":"#1e90ff","strokeWidth":3},"encoding":{"x":{"datum":3016,"type":"quantitative"},"x2":{"datum":4650},"y":{"datum":1.237e13,"type":"quantitative"}}},
{"data":{"values":[{}]},"mark":{"type":"text","text":"π","align":"left","baseline":"middle","fontSize":24,"fontStyle":"italic"},"encoding":{"x":{"datum":1745,"type":"quantitative"},"y":{"datum":1.841e13,"type":"quantitative"}}},
{"data":{"values":[{}]},"mark":{"type":"text","text":"K","align":"left","baseline":"middle","fontSize":24,"fontStyle":"italic"},"encoding":{"x":{"datum":1745,"type":"quantitative"},"y":{"datum":1.237e13,"type":"quantitative"}}},
{"data":{"values":[{}]},"mark":{"type":"text","text":"ΛΣΞ","align":"left","baseline":"middle","fontSize":24},"encoding":{"x":{"datum":5475,"type":"quantitative"},"y":{"datum":1.841e13,"type":"quantitative"}}},
{"data":{"values":[{}]},"mark":{"type":"text","text":"D","align":"left","baseline":"middle","fontSize":24,"fontStyle":"italic"},"encoding":{"x":{"datum":5475,"type":"quantitative"},"y":{"datum":1.237e13,"type":"quantitative"}}},
{"data":{"values":[{}]},"mark":{"type":"text","text":"Λ","align":"left","baseline":"middle","fontSize":24,"dx":19},"encoding":{"x":{"datum":5475,"type":"quantitative"},"y":{"datum":1.237e13,"type":"quantitative"}}},
{"data":{"values":[{}]},"mark":{"type":"text","text":"c","align":"left","baseline":"middle","fontSize":17,"fontStyle":"italic","dx":36,"dy":6},"encoding":{"x":{"datum":5475,"type":"quantitative"},"y":{"datum":1.237e13,"type":"quantitative"}}}
]},
{"width":843,"height":579,
"layer":[
{"layer":[{"data":{"name":"p2"},"mark":{"type":"line","interpolate":"step-after","clip":true}},{"data":{"name":"d12"},"mark":{"type":"line","interpolate":"step-after","clip":true}}],
"encoding":{
"x":{"field":"E","type":"quantitative","scale":{"type":"log","domain":[10,9750],"nice":false},"axis":{"values":[10,20,30,40,50,60,70,80,90,100,200,300,400,500,600,700,800,900,1000,2000,3000,4000,5000,6000,7000,8000,9000],"title":null,"labels":false,"ticks":false,"grid":true}},
"y":{"field":"n","type":"quantitative","scale":{"type":"log","domain":[3.1623e10,3.1623e14],"nice":false},"axis":{"values":[4e10,5e10,6e10,7e10,8e10,9e10,1e11,2e11,3e11,4e11,5e11,6e11,7e11,8e11,9e11,1e12,2e12,3e12,4e12,5e12,6e12,7e12,8e12,9e12,1e13,2e13,3e13,4e13,5e13,6e13,7e13,8e13,9e13,1e14,2e14,3e14],"title":"Neutrinos [1/bin]","labelExpr":"abs(log(datum.value)/LN10 - round(log(datum.value)/LN10)) < 0.01 ? '10' + (round(log(datum.value)/LN10) >= 10 ? '¹' : '') + ['⁰','¹','²','³','⁴','⁵','⁶','⁷','⁸','⁹'][round(log(datum.value)/LN10) % 10] : ''","labelFontSize":{"condition":{"test":"abs(log(datum.value)/LN10 - round(log(datum.value)/LN10)) < 0.01","value":29},"value":1},"tickSize":{"condition":{"test":"abs(log(datum.value)/LN10 - round(log(datum.value)/LN10)) < 0.01","value":7},"value":4},"gridOpacity":{"condition":{"test":"abs(log(datum.value)/LN10 - round(log(datum.value)/LN10)) < 0.01","value":1},"value":0},"labelPadding":9,"titlePadding":15}},
"color":{"field":"h","type":"nominal","scale":{"domain":["π","K","ΛΣΞ","DΛc"],"range":["#ff0000","#ffa500","#ff00ff","#1e90ff"]},"legend":null},
"strokeDash":{"field":"s","type":"nominal","scale":{"domain":["solid","dash","dot","dashdot"],"range":[[1,0],[10,4],[2.5,4],[14,4,3,4]]},"legend":null},
"strokeWidth":{"field":"s","type":"ordinal","scale":{"domain":["solid","dash","dot","dashdot"],"range":[2.6,2.2,2.4,2.2]},"legend":null},
"opacity":{"field":"s","type":"ordinal","scale":{"domain":["solid","dash","dot","dashdot"],"range":[1,0.8,0.85,0.8]},"legend":null},
"order":{"value":null}
}},
{"data":{"values":[{}]},"mark":{"type":"rect","fill":"white","stroke":"#a8a8a8","strokeWidth":1.6,"cornerRadius":7},"encoding":{"x":{"datum":11.37,"type":"quantitative"},"x2":{"datum":167.2},"y":{"datum":2.571e14,"type":"quantitative"},"y2":{"datum":1.34e14}}},
{"data":{"values":[{}]},"mark":{"type":"text","text":"50cm×50cm:","align":"left","baseline":"alphabetic","fontSize":30},"encoding":{"x":{"datum":12.24,"type":"quantitative"},"y":{"datum":1.64e14,"type":"quantitative"}}},
{"data":{"values":[{}]},"mark":{"type":"text","text":"ν","align":"left","baseline":"alphabetic","fontSize":30,"fontStyle":"italic","dx":213},"encoding":{"x":{"datum":12.24,"type":"quantitative"},"y":{"datum":1.64e14,"type":"quantitative"}}},
{"data":{"values":[{}]},"mark":{"type":"text","text":"μ","align":"left","baseline":"alphabetic","fontSize":21,"fontStyle":"italic","dx":229,"dy":6},"encoding":{"x":{"datum":12.24,"type":"quantitative"},"y":{"datum":1.64e14,"type":"quantitative"}}},
{"data":{"values":[{}]},"mark":{"type":"text","text":"+","align":"left","baseline":"alphabetic","fontSize":30,"dx":246},"encoding":{"x":{"datum":12.24,"type":"quantitative"},"y":{"datum":1.64e14,"type":"quantitative"}}},
{"data":{"values":[{}]},"mark":{"type":"text","text":"ν̄","align":"left","baseline":"alphabetic","fontSize":30,"fontStyle":"italic","dx":281},"encoding":{"x":{"datum":12.24,"type":"quantitative"},"y":{"datum":1.64e14,"type":"quantitative"}}},
{"data":{"values":[{}]},"mark":{"type":"text","text":"μ","align":"left","baseline":"alphabetic","fontSize":21,"fontStyle":"italic","dx":297,"dy":6},"encoding":{"x":{"datum":12.24,"type":"quantitative"},"y":{"datum":1.64e14,"type":"quantitative"}}},
{"data":{"values":[{}]},"mark":{"type":"rule","color":"#ff0000","strokeWidth":3},"encoding":{"x":{"datum":960.7,"type":"quantitative"},"x2":{"datum":1481},"y":{"datum":1.841e14,"type":"quantitative"}}},
{"data":{"values":[{}]},"mark":{"type":"rule","color":"#ffa500","strokeWidth":3},"encoding":{"x":{"datum":960.7,"type":"quantitative"},"x2":{"datum":1481},"y":{"datum":1.237e14,"type":"quantitative"}}},
{"data":{"values":[{}]},"mark":{"type":"rule","color":"#ff00ff","strokeWidth":3},"encoding":{"x":{"datum":3016,"type":"quantitative"},"x2":{"datum":4650},"y":{"datum":1.841e14,"type":"quantitative"}}},
{"data":{"values":[{}]},"mark":{"type":"rule","color":"#1e90ff","strokeWidth":3},"encoding":{"x":{"datum":3016,"type":"quantitative"},"x2":{"datum":4650},"y":{"datum":1.237e14,"type":"quantitative"}}},
{"data":{"values":[{}]},"mark":{"type":"text","text":"π","align":"left","baseline":"middle","fontSize":24,"fontStyle":"italic"},"encoding":{"x":{"datum":1745,"type":"quantitative"},"y":{"datum":1.841e14,"type":"quantitative"}}},
{"data":{"values":[{}]},"mark":{"type":"text","text":"K","align":"left","baseline":"middle","fontSize":24,"fontStyle":"italic"},"encoding":{"x":{"datum":1745,"type":"quantitative"},"y":{"datum":1.237e14,"type":"quantitative"}}},
{"data":{"values":[{}]},"mark":{"type":"text","text":"ΛΣΞ","align":"left","baseline":"middle","fontSize":24},"encoding":{"x":{"datum":5475,"type":"quantitative"},"y":{"datum":1.841e14,"type":"quantitative"}}},
{"data":{"values":[{}]},"mark":{"type":"text","text":"D","align":"left","baseline":"middle","fontSize":24,"fontStyle":"italic"},"encoding":{"x":{"datum":5475,"type":"quantitative"},"y":{"datum":1.237e14,"type":"quantitative"}}},
{"data":{"values":[{}]},"mark":{"type":"text","text":"Λ","align":"left","baseline":"middle","fontSize":24,"dx":19},"encoding":{"x":{"datum":5475,"type":"quantitative"},"y":{"datum":1.237e14,"type":"quantitative"}}},
{"data":{"values":[{}]},"mark":{"type":"text","text":"c","align":"left","baseline":"middle","fontSize":17,"fontStyle":"italic","dx":36,"dy":6},"encoding":{"x":{"datum":5475,"type":"quantitative"},"y":{"datum":1.237e14,"type":"quantitative"}}}
]},
{"width":843,"height":579,
"layer":[
{"layer":[{"data":{"name":"p3"},"mark":{"type":"line","interpolate":"step-after","clip":true}}],
"encoding":{
"x":{"field":"E","type":"quantitative","scale":{"type":"log","domain":[10,9750],"nice":false},"axis":{"values":[10,20,30,40,50,60,70,80,90,100,200,300,400,500,600,700,800,900,1000,2000,3000,4000,5000,6000,7000,8000,9000,10000],"title":"Neutrino Energy [GeV]","labelExpr":"datum.value == 10 ? '10' : datum.value == 100 ? '10²' : datum.value == 1000 ? '10³' : datum.value == 10000 ? '1' : ''","labelFontSize":{"condition":{"test":"datum.value == 10 || datum.value == 100 || datum.value == 1000 || datum.value == 10000","value":29},"value":1},"labelAlign":{"condition":{"test":"datum.value == 10000","value":"right"},"value":"center"},"gridOpacity":{"condition":{"test":"datum.value == 10000","value":0},"value":1},"tickOpacity":{"condition":{"test":"datum.value == 10000","value":0},"value":1},"tickSize":7,"labelPadding":4,"titlePadding":4,"grid":true}},
"y":{"field":"n","type":"quantitative","scale":{"type":"log","domain":[3.1623e8,3.1623e12],"nice":false},"axis":{"values":[4e8,5e8,6e8,7e8,8e8,9e8,1e9,2e9,3e9,4e9,5e9,6e9,7e9,8e9,9e9,1e10,2e10,3e10,4e10,5e10,6e10,7e10,8e10,9e10,1e11,2e11,3e11,4e11,5e11,6e11,7e11,8e11,9e11,1e12,2e12,3e12],"title":"Neutrinos [1/bin]","labelExpr":"abs(log(datum.value)/LN10 - round(log(datum.value)/LN10)) < 0.01 ? '10' + (round(log(datum.value)/LN10) >= 10 ? '¹' : '') + ['⁰','¹','²','³','⁴','⁵','⁶','⁷','⁸','⁹'][round(log(datum.value)/LN10) % 10] : ''","labelFontSize":{"condition":{"test":"abs(log(datum.value)/LN10 - round(log(datum.value)/LN10)) < 0.01","value":29},"value":1},"tickSize":{"condition":{"test":"abs(log(datum.value)/LN10 - round(log(datum.value)/LN10)) < 0.01","value":7},"value":4},"gridOpacity":{"condition":{"test":"abs(log(datum.value)/LN10 - round(log(datum.value)/LN10)) < 0.01","value":1},"value":0},"labelPadding":9,"titlePadding":15}},
"color":{"field":"h","type":"nominal","scale":{"domain":["π","K","ΛΣΞ","DΛc"],"range":["#ff0000","#ffa500","#ff00ff","#1e90ff"]},"legend":null},
"strokeDash":{"field":"s","type":"nominal","scale":{"domain":["solid","dash","dot","dashdot"],"range":[[1,0],[10,4],[2.5,4],[14,4,3,4]]},"legend":null},
"strokeWidth":{"field":"s","type":"ordinal","scale":{"domain":["solid","dash","dot","dashdot"],"range":[2.6,2.2,2.4,2.2]},"legend":null},
"opacity":{"field":"s","type":"ordinal","scale":{"domain":["solid","dash","dot","dashdot"],"range":[1,0.8,0.85,0.8]},"legend":null},
"order":{"value":null}
}},
{"data":{"values":[{}]},"mark":{"type":"rect","fill":"white","stroke":"#a8a8a8","strokeWidth":1.6,"cornerRadius":7},"encoding":{"x":{"datum":11.37,"type":"quantitative"},"x2":{"datum":167.2},"y":{"datum":2.571e12,"type":"quantitative"},"y2":{"datum":1.34e12}}},
{"data":{"values":[{}]},"mark":{"type":"text","text":"50cm×50cm:","align":"left","baseline":"alphabetic","fontSize":30},"encoding":{"x":{"datum":12.24,"type":"quantitative"},"y":{"datum":1.64e12,"type":"quantitative"}}},
{"data":{"values":[{}]},"mark":{"type":"text","text":"ν","align":"left","baseline":"alphabetic","fontSize":30,"fontStyle":"italic","dx":213},"encoding":{"x":{"datum":12.24,"type":"quantitative"},"y":{"datum":1.64e12,"type":"quantitative"}}},
{"data":{"values":[{}]},"mark":{"type":"text","text":"τ","align":"left","baseline":"alphabetic","fontSize":21,"fontStyle":"italic","dx":229,"dy":6},"encoding":{"x":{"datum":12.24,"type":"quantitative"},"y":{"datum":1.64e12,"type":"quantitative"}}},
{"data":{"values":[{}]},"mark":{"type":"text","text":"+","align":"left","baseline":"alphabetic","fontSize":30,"dx":246},"encoding":{"x":{"datum":12.24,"type":"quantitative"},"y":{"datum":1.64e12,"type":"quantitative"}}},
{"data":{"values":[{}]},"mark":{"type":"text","text":"ν̄","align":"left","baseline":"alphabetic","fontSize":30,"fontStyle":"italic","dx":281},"encoding":{"x":{"datum":12.24,"type":"quantitative"},"y":{"datum":1.64e12,"type":"quantitative"}}},
{"data":{"values":[{}]},"mark":{"type":"text","text":"τ","align":"left","baseline":"alphabetic","fontSize":21,"fontStyle":"italic","dx":297,"dy":6},"encoding":{"x":{"datum":12.24,"type":"quantitative"},"y":{"datum":1.64e12,"type":"quantitative"}}},
{"data":{"values":[{}]},"mark":{"type":"rule","color":"#1e90ff","strokeWidth":3},"encoding":{"x":{"datum":3016,"type":"quantitative"},"x2":{"datum":4650},"y":{"datum":1.84e12,"type":"quantitative"}}},
{"data":{"values":[{}]},"mark":{"type":"text","text":"D","align":"left","baseline":"middle","fontSize":24,"fontStyle":"italic"},"encoding":{"x":{"datum":5475,"type":"quantitative"},"y":{"datum":1.84e12,"type":"quantitative"}}},
{"data":{"values":[{}]},"mark":{"type":"text","text":"Λ","align":"left","baseline":"middle","fontSize":24,"dx":19},"encoding":{"x":{"datum":5475,"type":"quantitative"},"y":{"datum":1.84e12,"type":"quantitative"}}},
{"data":{"values":[{}]},"mark":{"type":"text","text":"c","align":"left","baseline":"middle","fontSize":17,"fontStyle":"italic","dx":36,"dy":6},"encoding":{"x":{"datum":5475,"type":"quantitative"},"y":{"datum":1.84e12,"type":"quantitative"}}}
]}
]
}
